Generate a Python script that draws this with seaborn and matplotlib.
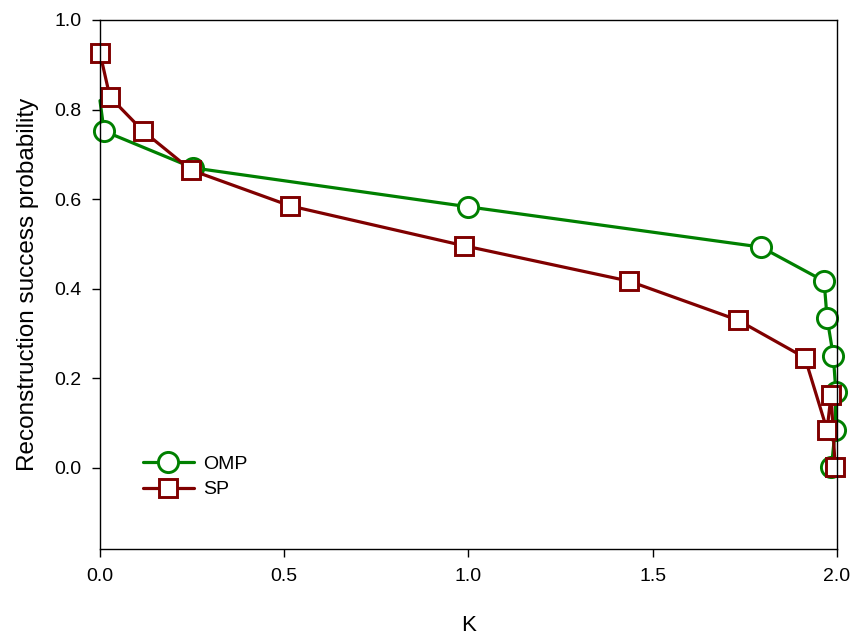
import matplotlib
matplotlib.use("Agg")
import matplotlib.pyplot as plt
import seaborn as sns
import pandas as pd

# Data
omp_k = [0.0, 0.011, 0.252, 0.999, 1.794, 1.965, 1.973, 1.990, 1.997, 1.995, 1.985]
omp_p = [0.82, 0.752, 0.670, 0.583, 0.493, 0.417, 0.335, 0.250, 0.170, 0.085, 0.002]
sp_k = [0.0, 0.027, 0.117, 0.247, 0.516, 0.988, 1.436, 1.731, 1.913, 1.973, 1.984, 1.995]
sp_p = [0.926, 0.828, 0.752, 0.665, 0.585, 0.496, 0.417, 0.330, 0.246, 0.085, 0.163, 0.002]
x_ticks = [0.0, 0.5, 1.0, 1.5, 2.0]
y_ticks = [0.0, 0.2, 0.4, 0.6, 0.8, 1.0]

sns.set_style("ticks")
plt.rcParams['font.family'] = ['Liberation Sans', 'DejaVu Sans']
plt.rcParams['text.color'] = 'black'
plt.rcParams['axes.labelcolor'] = 'black'

fig = plt.figure(figsize=(8.53, 6.37), dpi=100)
ax = fig.add_axes([100/853, 1-549/637, 737/853, 529/637])

omp_df = pd.DataFrame({"K": omp_k, "P": omp_p})
sp_df = pd.DataFrame({"K": sp_k, "P": sp_p})

green = "#008000"
red = "#800000"

sns.lineplot(data=omp_df, x="K", y="P", sort=False, ax=ax, color=green,
             linewidth=2.3, marker="o", markersize=14.5, markerfacecolor="white",
             markeredgecolor=green, markeredgewidth=2.1, clip_on=False,
             markevery=list(range(1, len(omp_k))), label="OMP")
sns.lineplot(data=sp_df, x="K", y="P", sort=False, ax=ax, color=red,
             linewidth=2.3, marker="s", markersize=13.5, markerfacecolor="white",
             markeredgecolor=red, markeredgewidth=2.1, clip_on=False, label="SP")

ax.set_xlim(0, 2.0)
ax.set_ylim(-0.181, 1.0)
ax.set_xticks(x_ticks)
ax.set_xticklabels([f"{t:.1f}" for t in x_ticks])
ax.set_yticks(y_ticks)
ax.set_yticklabels([f"{t:.1f}" for t in y_ticks])
ax.tick_params(axis="both", labelsize=14, direction="out", length=5.5, width=1,
               colors="black", pad=8)
for s in ax.spines.values():
    s.set_linewidth(1.0)
    s.set_color("black")
    s.set_visible(True)

ax.set_xlabel("K", fontsize=16, labelpad=22)
ax.set_ylabel("Reconstruction success probability", fontsize=17.5, labelpad=11)

leg = ax.legend(loc="upper left", bbox_to_anchor=((143-100)/737, (549-455)/529),
                frameon=False, fontsize=14, handlelength=2.6, labelspacing=0.42,
                handletextpad=0.5, borderpad=0, borderaxespad=0)

fig.savefig("out.png", dpi=100)
